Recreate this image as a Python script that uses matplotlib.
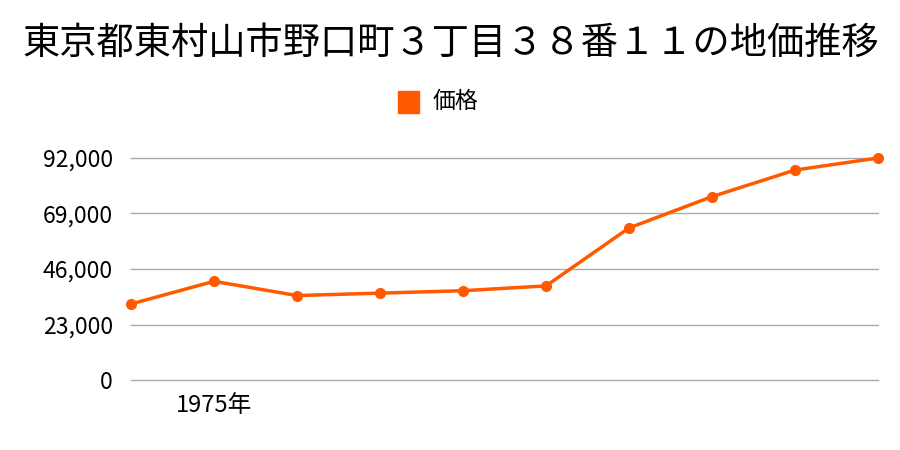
import matplotlib
matplotlib.use("Agg")
import matplotlib.pyplot as plt

plt.rcParams['font.family'] = ['Noto Sans CJK JP', 'DejaVu Sans']

years = ["1974年", "1975年", "1976年", "1977年", "1978年", "1979年", "1980年", "1981年", "1982年", "1983年"]
shown_labels = ["", "1975年", "", "", "", "", "", "", "", ""]
prices = [31500, 40900, 35000, 36000, 37000, 39000, 63000, 76000, 87000, 92000]
yticks = [0, 23000, 46000, 69000, 92000]
title = "東京都東村山市野口町３丁目３８番１１の地価推移"
series_name = "価格"
color = "#ff5a00"

fig = plt.figure(figsize=(9, 4.5), dpi=100)
ax = fig.add_axes([131/900, 70/450, 747/900, 222/450])

x = list(range(len(years)))
ax.plot(x, prices, color=color, lw=2.5, marker="o", markersize=7, clip_on=False, zorder=3)

ax.set_xlim(0, len(years) - 1)
ax.set_ylim(0, 92000)
ax.set_yticks(yticks)
ax.set_yticklabels([f"{v:,}" for v in yticks], fontsize=16.5)
ax.set_xticks(x)
ax.set_xticklabels(shown_labels, fontsize=17)
ax.tick_params(axis="x", length=0, pad=10)
ax.tick_params(axis="y", length=0, pad=13)
ax.grid(axis="y", color="#aaaaaa", lw=1)
for gl in ax.get_ygridlines():
    gl.set_clip_on(False)
ax.set_axisbelow(True)
for s in ax.spines.values():
    s.set_visible(False)

fig.text(451/900, 1 - 43/450, title, ha="center", va="center", fontsize=26.8)

# legend
fig.patches.append(plt.Rectangle((398/900, 1 - 113/450), 21/900, 22/450, transform=fig.transFigure,
                                 color=color, figure=fig))
fig.text(433/900, 1 - 101/450, series_name, ha="left", va="center", fontsize=16.5)

fig.savefig("out.png", dpi=100)
